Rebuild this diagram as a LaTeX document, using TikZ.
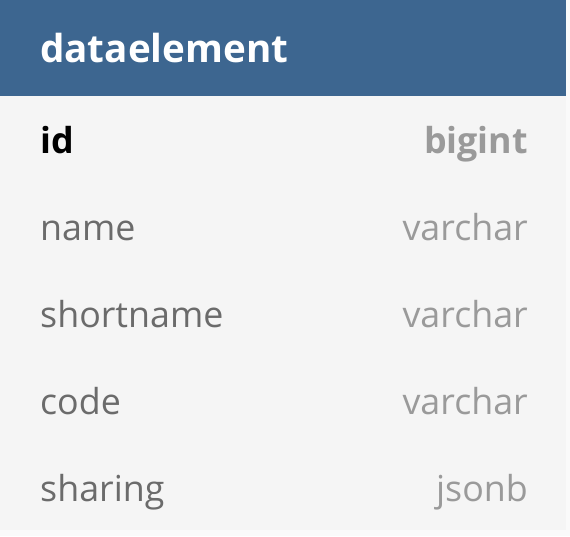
\documentclass[tikz,border=0pt]{standalone}
\usepackage{fontspec}
\setmainfont{Open Sans}
\definecolor{hdr}{HTML}{3D6690}
\definecolor{panel}{HTML}{F5F5F5}
\definecolor{outer}{HTML}{FAFAFA}
\definecolor{fname}{HTML}{6B6B6B}
\definecolor{ftype}{HTML}{9A9A9A}
\begin{document}
\begin{tikzpicture}[x=1pt,y=-1pt,
  fieldname/.style={anchor=base west,inner sep=0pt,font=\fontsize{35.8}{40}\selectfont,text=fname},
  fieldtype/.style={anchor=base east,inner sep=0pt,font=\fontsize{35.8}{40}\selectfont,text=ftype},
  titletext/.style={anchor=base west,inner sep=0pt,font=\fontsize{38.6}{42}\selectfont\bfseries,text=white}]
\useasboundingbox (0,0) rectangle (570,536);
\fill[outer] (0,0) rectangle (570,536);
\fill[panel] (0,96) rectangle (566,530);
\fill[hdr] (0,0) rectangle (566,96);
\node[titletext] (title) at (40,62) {dataelement};
\node[fieldname,text=black,font=\fontsize{35.8}{40}\selectfont\bfseries] (n1) at (40,153.5) {id};
\node[fieldtype,font=\fontsize{35.8}{40}\selectfont\bfseries] (t1) at (528,153.5) {bigint};
\node[fieldname] (n2) at (40,240.5) {name};
\node[fieldtype] (t2) at (528,240.5) {varchar};
\node[fieldname] (n3) at (40,327.5) {shortname};
\node[fieldtype] (t3) at (528,327.5) {varchar};
\node[fieldname] (n4) at (40,414.5) {code};
\node[fieldtype] (t4) at (528,414.5) {varchar};
\node[fieldname] (n5) at (40,501.5) {sharing};
\node[fieldtype] (t5) at (528,501.5) {jsonb};
\end{tikzpicture}
\end{document}
